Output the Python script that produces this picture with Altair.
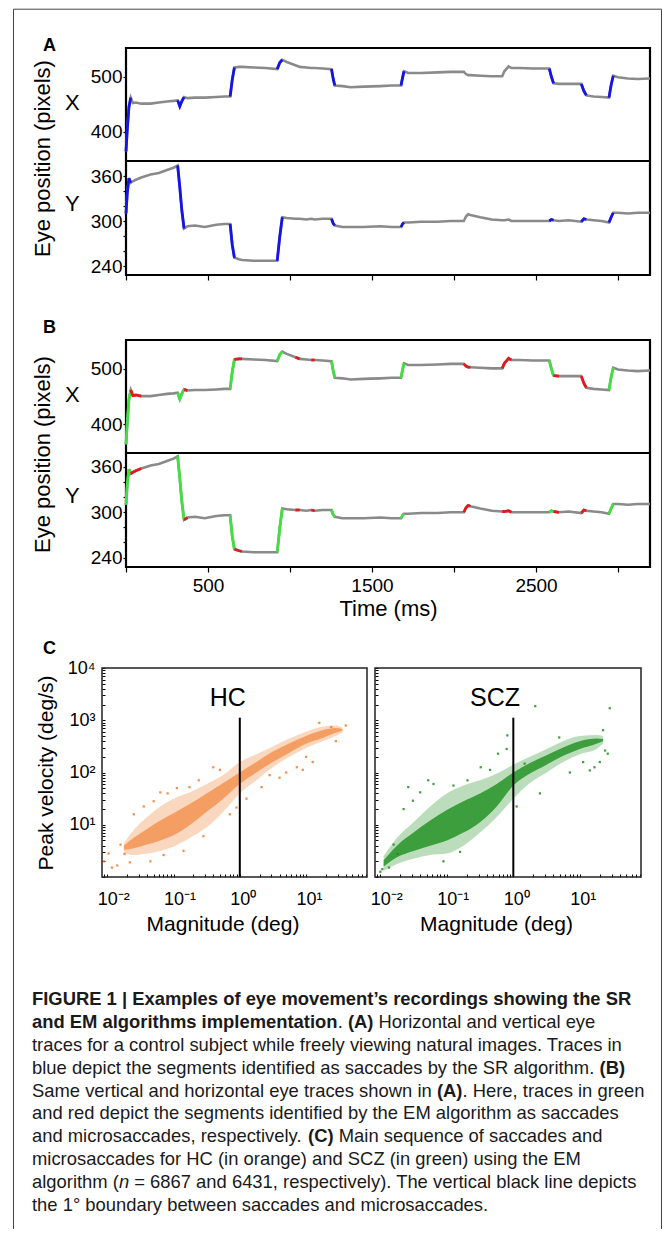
import altair as alt
import pandas as pd

FONT = "Liberation Sans"
GRAY = "#8a8a8a"
BLUE = "#1414e6"
GREEN = "#40e040"
RED = "#e31a1c"
ORANGE = "#f07a2c"
DKGREEN = "#1e8e1e"
FRAME = "#444444"

# ---------------- Panels A / B : eye traces ----------------
time_ms = [0, 8, 18, 29, 42, 60, 93, 150, 200, 250, 290, 315, 328, 340, 354, 375, 420, 480, 550, 600,
           635, 648, 661, 690, 707, 780, 850, 922, 938, 953, 980, 1033, 1059, 1100, 1130, 1150, 1200, 1253, 1263, 1273,
           1320, 1370, 1450, 1550, 1620, 1677, 1686, 1695, 1720, 1800, 1900, 1980, 2040, 2060, 2073, 2086, 2100, 2160, 2230, 2294,
           2307, 2333, 2350, 2400, 2480, 2540, 2581, 2594, 2607, 2640, 2700, 2776, 2792, 2807, 2850, 2900, 2945, 2958, 2971, 3000,
           3060, 3120, 3195]
eye_x = [364, 405, 445, 462, 452, 453, 451, 451, 453, 455, 456, 457, 446, 455, 463, 461, 462, 462, 463, 464,
         464, 495, 517, 518, 518, 517, 516, 514, 526, 531, 527, 521, 518, 517, 516, 516, 515, 514, 497, 484,
         483, 481, 482, 483, 484, 484, 498, 510, 507, 507, 508, 509, 509, 509, 505, 503, 503, 502, 501, 501,
         510, 519, 516, 516, 515, 515, 515, 500, 488, 487, 487, 487, 474, 466, 464, 463, 462, 485, 502, 499,
         497, 496, 497]
eye_y = [310, 338, 357, 351, 353, 355, 358, 362, 364, 368, 371, 374, 345, 315, 290, 293, 294, 292, 295, 296,
         296, 268, 251, 249, 248, 247, 247, 247, 280, 305, 304, 303, 303, 302, 303, 302, 303, 303, 297, 294,
         292, 292, 292, 293, 292, 292, 296, 298, 298, 299, 299, 300, 300, 300, 306, 309, 308, 305, 302, 301,
         301, 302, 300, 300, 300, 300, 300, 302, 301, 300, 301, 299, 303, 302, 301, 300, 298, 305, 311, 311,
         310, 311, 311]

sr_sacc_start = [0, 315, 635, 922, 1253, 1677, 2581, 2776, 2945]
sr_sacc_end = [29, 354, 661, 953, 1273, 1695, 2607, 2807, 2971]
em_sacc_start = [0, 315, 635, 922, 1253, 1677, 2581, 2945]
em_sacc_end = [29, 354, 661, 953, 1273, 1695, 2607, 2971]
em_micro_start = [29, 354, 661, 1033, 1130, 2060, 2294, 2607, 2776]
em_micro_end = [93, 375, 707, 1059, 1150, 2100, 2350, 2640, 2807]

time_domain = [0, 3195]
a_x_domain = [346.4, 552.5]
a_y_domain = [228, 380]
b_x_domain = [348.6, 552]
b_y_domain = [227.5, 378.5]
time_ticks = [0, 500, 1000, 1500, 2000, 2500, 3000]
time_labels = [500, 1500, 2500]
x_ticks = [400, 500]
y_ticks = [240, 260, 280, 300, 320, 340, 360]
y_labels = [240, 300, 360]

# ---------------- Panel C : main sequence (log10 units) ----------------
hc_lm = [-1.75, -1.6, -1.4, -1.2, -1.0, -0.75, -0.5, -0.25, 0.0, 0.25, 0.5, 0.75, 1.0, 1.25, 1.45, 1.55]
hc_outer_lo = [0.45, 0.42, 0.45, 0.5, 0.58, 0.75, 0.95, 1.25, 1.6, 1.85, 2.1, 2.3, 2.47, 2.6, 2.7, 2.76]
hc_outer_hi = [0.65, 0.9, 1.15, 1.35, 1.5, 1.62, 1.78, 1.95, 2.2, 2.35, 2.5, 2.65, 2.78, 2.88, 2.9, 2.86]
hc_core_lo = [0.52, 0.55, 0.62, 0.7, 0.8, 1.0, 1.25, 1.5, 1.78, 2.0, 2.2, 2.38, 2.55, 2.66, 2.76, 2.8]
hc_core_hi = [0.6, 0.75, 0.92, 1.08, 1.22, 1.4, 1.6, 1.8, 2.0, 2.2, 2.4, 2.56, 2.7, 2.81, 2.85, 2.83]
hc_pts_lm = [-2.05, -1.93, -1.74, -1.6, -1.3, -1.09, -0.76, -0.4, -0.05, 0.1, 0.33, 0.6, 0.86, 1.0, 1.38, 1.6,
             -1.98, -1.85, -1.8, -1.66, -1.2, -1.15, -0.95, -0.85, -0.62, -0.55, -0.3, -0.15, 0.45, 0.7,
             0.95, 1.1, 1.2, 1.45, -1.45, -1.35]
hc_pts_lv = [0.3, 0.18, 0.44, 1.2, 1.45, 1.6, 1.72, 2.1, 1.33, 1.5, 1.72, 1.9, 2.1, 2.3, 2.87, 2.9,
             0.45, 0.22, 0.62, 0.28, 1.62, 0.42, 1.7, 0.5, 1.85, 0.78, 2.05, 1.2, 1.95, 2.0,
             2.05, 2.2, 2.95, 2.6, 1.35, 0.3]

scz_lm = [-1.95, -1.75, -1.5, -1.25, -1.0, -0.75, -0.5, -0.25, 0.0, 0.25, 0.5, 0.75, 1.0, 1.25, 1.35]
scz_outer_lo = [0.12, 0.25, 0.35, 0.42, 0.45, 0.6, 0.85, 1.15, 1.5, 1.8, 2.0, 2.2, 2.35, 2.45, 2.55]
scz_outer_hi = [0.4, 0.75, 1.05, 1.35, 1.6, 1.75, 1.85, 1.98, 2.15, 2.3, 2.45, 2.6, 2.7, 2.72, 2.7]
scz_core_lo = [0.2, 0.38, 0.5, 0.6, 0.7, 0.85, 1.05, 1.35, 1.75, 1.98, 2.15, 2.32, 2.45, 2.55, 2.6]
scz_core_hi = [0.32, 0.6, 0.85, 1.08, 1.28, 1.45, 1.6, 1.78, 2.0, 2.18, 2.33, 2.48, 2.6, 2.65, 2.64]
scz_pts_lm = [0.33, 1.45, 1.35, 1.22, 1.42, -0.09, -0.23, -1.58, -1.51, -1.28, -1.87, -1.97, -1.74, 0.17, 0.69, 1.15, -0.69, -0.49,
              -1.65, -1.4, -1.2, -1.05, -0.9, -0.8, -0.35, -0.1, 0.05, 0.4, 0.85, 1.05, 1.3, 1.38, -2.0, -1.8]
scz_pts_lv = [3.27, 3.23, 2.81, 2.1, 2.36, 2.71, 2.36, 1.72, 1.46, 1.85, 0.18, 0.15, 0.44, 2.17, 2.67, 2.04, 1.85, 2.1,
              1.3, 1.62, 1.78, 0.3, 1.75, 0.48, 2.05, 2.45, 1.35, 1.6, 2.0, 2.2, 2.2, 2.42, 0.1, 0.62]

group_names = ["HC", "SCZ"]
group_label_mag = [0.66, 0.53]
group_label_vel = [2700, 2700]
boundary_mag = 1.0
boundary_vel = [1, 1120]

mag_domain = [10 ** -2.08, 10 ** 1.92]
vel_domain = [1, 10000]
mag_label_values = [0.01, 0.1, 1, 10]
mag_label_text = ["10⁻²", "10⁻¹", "10⁰", "10¹"]
vel_label_values = [10, 100, 1000, 10000]
vel_label_text = ["10¹", "10²", "10³", "10⁴"]

# ---------------- Caption ----------------
caption_lines = [
    [("FIGURE 1 | Examples of eye movement’s recordings showing the SR", "b")],
    [("and EM algorithms implementation", "b"), (". ", "r"), ("(A)", "b"), (" Horizontal and vertical eye", "r")],
    [("traces for a control subject while freely viewing natural images. Traces in", "r")],
    [("blue depict the segments identified as saccades by the SR algorithm. ", "r"), ("(B)", "b")],
    [("Same vertical and horizontal eye traces shown in ", "r"), ("(A)", "b"), (". Here, traces in green", "r")],
    [("and red depict the segments identified by the EM algorithm as saccades", "r")],
    [("and microsaccades, respectively. ", "r"), ("(C)", "b"), (" Main sequence of saccades and", "r")],
    [("microsaccades for HC (in orange) and SCZ (in green) using the EM", "r")],
    [("algorithm (", "r"), ("n", "i"), (" = 6867 and 6431, respectively). The vertical black line depicts", "r")],
    [("the 1° boundary between saccades and microsaccades.", "r")],
]

# =====================================================================
rows = [dict(grp="trace", seg=0, t=t, X=x, Y=y) for t, x, y in zip(time_ms, eye_x, eye_y)]
for grp, starts, ends in (("sr", sr_sacc_start, sr_sacc_end),
                          ("ems", em_sacc_start, em_sacc_end),
                          ("emm", em_micro_start, em_micro_end)):
    for k, (s, e) in enumerate(zip(starts, ends)):
        rows += [dict(grp=grp, seg=k + 1, t=t, X=x, Y=y)
                 for t, x, y in zip(time_ms, eye_x, eye_y) if s <= t <= e]
traces = pd.DataFrame(rows)

W_TR = 524
H_X = 113
H_Y = 114
H_TR = H_X + H_Y


def letter_title(letter, dx, dy):
    return alt.TitleParams(letter, anchor="start", frame="group", orient="top", offset=0,
                           dx=dx, dy=dy, baseline="alphabetic", fontSize=18,
                           fontWeight="bold", font=FONT, color="black")


def y_axis_kw():
    return dict(labelFontSize=19, labelFont=FONT, labelColor="black", labelPadding=1,
                tickSize=3, tickColor="black", tickWidth=1.2, domain=False, grid=False,
                titleFontSize=22, titleFont=FONT, titleFontWeight="normal", titleColor="black",
                titleAngle=0, titleAlign="right", titleBaseline="middle", titlePadding=11)


def trace_panel(x_dom, y_dom, colored, letter, letter_dy, x_axis, eye_title_y):
    xs = alt.Scale(domain=time_domain, nice=False, zero=False)
    xenc = alt.X("t:Q", scale=xs, axis=x_axis)
    ax_x = alt.Axis(values=x_ticks, title="X", titleY=54, orient="left", **y_axis_kw())
    ax_y = alt.Axis(values=y_ticks, title="Y", titleY=155.5, orient="left",
                    labelExpr=f"indexof({y_labels}, datum.value) >= 0 ? datum.label : ''",
                    **y_axis_kw())
    ax_eye = alt.Axis(orient="left", title="Eye position (pixels)", labels=False, ticks=False,
                      domain=False, grid=False, titleFontSize=22, titleFont=FONT,
                      titleFontWeight="normal", titleColor="black", titlePadding=72,
                      titleY=eye_title_y)
    sx = alt.Scale(domain=x_dom, range=[H_X, 0], nice=False, zero=False)
    sy = alt.Scale(domain=y_dom, range=[H_TR, H_X], nice=False, zero=False)
    se = alt.Scale(domain=x_dom, range=[H_TR, 0], nice=False, zero=False)

    def lines(field, scale, axis):
        base = alt.Chart(traces).encode(x=xenc, y=alt.Y(f"{field}:Q", scale=scale, axis=axis),
                                        detail="seg:N")
        out = [base.mark_line(color=GRAY, strokeWidth=2.6).transform_filter(alt.datum.grp == "trace")]
        for grp, col in colored:
            out.append(base.mark_line(color=col, strokeWidth=2.8).transform_filter(alt.datum.grp == grp))
        return out

    div_df = pd.DataFrame({"t0": [time_domain[0]], "t1": [time_domain[1]], "X": [x_dom[0]]})
    divider = alt.Chart(div_df).mark_rule(color="black", strokeWidth=2.2).encode(
        x=alt.X("t0:Q", scale=xs, axis=x_axis), x2="t1:Q",
        y=alt.Y("X:Q", scale=sx, axis=ax_x))
    lx = alt.layer(*lines("X", sx, ax_x), divider)
    ly = alt.layer(*lines("Y", sy, ax_y))
    le = alt.Chart(traces).mark_line(opacity=0).encode(
        x=xenc, y=alt.Y("X:Q", scale=se, axis=ax_eye), detail="seg:N"
    ).transform_filter(alt.datum.grp == "trace")
    return alt.layer(lx, ly, le).resolve_scale(y="independent").resolve_axis(y="independent").properties(
        width=W_TR, height=H_TR,
        view=alt.ViewBackground(stroke="black", strokeWidth=2.2),
        title=letter_title(letter, -83, letter_dy))


ax_time_a = alt.Axis(values=time_ticks, labels=False, ticks=True, tickSize=5, tickColor="black",
                     tickWidth=1.2, domain=False, grid=False, title=None)
ax_time_b = alt.Axis(values=time_ticks, format="d", ticks=True, tickSize=5, tickColor="black",
                     tickWidth=1.2, domain=False, grid=False,
                     labelExpr=f"indexof({time_labels}, datum.value) >= 0 ? datum.label : ''",
                     labelFontSize=19, labelFont=FONT, labelColor="black", labelPadding=4,
                     title="Time (ms)", titleFontSize=22, titleFont=FONT, titleFontWeight="normal",
                     titleColor="black", titlePadding=3)

panelA = trace_panel(a_x_domain, a_y_domain, [("sr", BLUE)], "A", 21, ax_time_a, 110)
panelB = trace_panel(b_x_domain, b_y_domain, [("ems", GREEN), ("emm", RED)], "B", 10.7, ax_time_b, 114)

# ---------------- Panel C : both scatter plots in one view ----------------
C_H = 209
HC_RANGE = [-24, 241]
SCZ_RANGE = [249, 515]


def mag_ticks():
    vals = [k * 10.0 ** e for e in (-3, -2, -1, 0, 1) for k in range(1, 10)]
    return [v for v in vals if mag_domain[0] <= v <= mag_domain[1]]


def vel_ticks():
    vals = [k * 10.0 ** e for e in (0, 1, 2, 3) for k in range(1, 10)] + [10000.0]
    return [v for v in vals if vel_domain[0] <= v <= vel_domain[1]]


def label_expr(values, texts):
    expr = "''"
    for v, s in reversed(list(zip(values, texts))):
        expr = f"datum.value == {v} ? '{s}' : ({expr})"
    return expr


ys = alt.Scale(type="log", domain=vel_domain, nice=False)
ax_vel_hc = alt.Axis(values=vel_ticks(), labelExpr=label_expr(vel_label_values, vel_label_text),
                     orient="left", offset=21, labelFontSize=18, labelFont=FONT, labelColor="black",
                     labelPadding=7, labelOverlap=False, labelFlush=False, tickSize=3,
                     tickColor="black", domain=False, grid=False, title="Peak velocity (deg/s)",
                     titleFontSize=21, titleFont=FONT, titleFontWeight="normal", titleColor="black",
                     titlePadding=11)
ax_vel_scz = alt.Axis(values=vel_ticks(), labels=False, orient="left", offset=-(SCZ_RANGE[0] + 3),
                      tickSize=3, tickColor="black", domain=False, grid=False, title=None)


def scatter_group(idx, rng, lm, olo, ohi, clo, chi, plm, plv, color, core_op, y_axis):
    xs = alt.Scale(type="log", domain=mag_domain, range=rng, nice=False)
    ax_m = alt.Axis(values=mag_ticks(), labelExpr=label_expr(mag_label_values, mag_label_text),
                    orient="bottom", offset=-3, labelFontSize=18, labelFont=FONT, labelColor="black",
                    labelAlign="left", labelOffset=-10, labelPadding=13, labelOverlap=False,
                    labelFlush=False, tickSize=3, tickColor="black", domain=False, grid=False,
                    title="Magnitude (deg)", titleFontSize=21, titleFont=FONT,
                    titleFontWeight="normal", titleColor="black", titlePadding=5,
                    titleX=(rng[0] + rng[1]) / 2 - 12)
    X = alt.X("mag:Q", scale=xs, axis=ax_m)
    Y = alt.Y("vlo:Q", scale=ys, axis=y_axis)
    band = pd.DataFrame({"mag": [10 ** v for v in lm], "vlo": [10 ** v for v in olo],
                         "vhi": [10 ** v for v in ohi]})
    core = pd.DataFrame({"mag": [10 ** v for v in lm], "vlo": [10 ** v for v in clo],
                         "vhi": [10 ** v for v in chi]})
    pts = pd.DataFrame({"mag": [10 ** v for v in plm], "vlo": [10 ** v for v in plv]})
    lab = pd.DataFrame({"mag": [group_label_mag[idx]], "vlo": [group_label_vel[idx]],
                        "txt": [group_names[idx]]})
    bnd = pd.DataFrame({"mag": [boundary_mag], "vlo": [boundary_vel[0]], "vhi": [boundary_vel[1]]})
    box = pd.DataFrame({"mag": [mag_domain[0]], "mag2": [mag_domain[1]],
                        "vlo": [vel_domain[0]], "vhi": [vel_domain[1]]})
    return alt.layer(
        alt.Chart(band).mark_area(color=color, opacity=0.3, interpolate="monotone").encode(x=X, y=Y, y2="vhi:Q"),
        alt.Chart(core).mark_area(color=color, opacity=core_op, interpolate="monotone").encode(x=X, y=Y, y2="vhi:Q"),
        alt.Chart(pts).mark_square(color=color, size=5, opacity=0.85).encode(x=X, y=Y),
        alt.Chart(bnd).mark_rule(color="black", strokeWidth=2).encode(x=X, y=Y, y2="vhi:Q"),
        alt.Chart(lab).mark_text(fontSize=25, font=FONT, color="black", baseline="middle").encode(x=X, y=Y, text="txt:N"),
        alt.Chart(box).mark_rect(filled=False, stroke="#222222", strokeWidth=1.5).encode(x=X, x2="mag2:Q", y=Y, y2="vhi:Q"),
    )


hc = scatter_group(0, HC_RANGE, hc_lm, hc_outer_lo, hc_outer_hi, hc_core_lo, hc_core_hi,
                   hc_pts_lm, hc_pts_lv, ORANGE, 0.62, ax_vel_hc)
scz = scatter_group(1, SCZ_RANGE, scz_lm, scz_outer_lo, scz_outer_hi, scz_core_lo, scz_core_hi,
                    scz_pts_lm, scz_pts_lv, DKGREEN, 0.8, ax_vel_scz)
panelC = alt.layer(hc, scz).resolve_scale(x="independent", y="independent").resolve_axis(
    x="independent", y="independent").properties(
    width=SCZ_RANGE[1], height=C_H, title=letter_title("C", -83, 13))

# ---------------- caption ----------------
REG = {}
for chars, w in [("'", 191), ("ijl’", 222), ("|", 260), (" .,:;!/ftI", 278), ("()-r", 333), ("°", 400),
                 ("ckvxyzsJ", 500), ("abdeghnopqu0123456789L", 556), ("=+", 584), ("FTZ", 611),
                 ("ABEKPSVXY", 667), ("CDHNRUw", 722), ("GOQ", 778), ("Mm", 833), ("W", 944)]:
    for ch in chars:
        REG[ch] = w
BOLD = {}
for chars, w in [(" .,:;!iIjl/’", 278), ("|", 280), ("()-ft", 333), ("r", 389),
                 ("acesvxyzkJ0123456789", 556), ("=+", 584), ("bdghnopquFLTZ", 611), ("EPSVXY", 667),
                 ("ABCDHKNRU", 722), ("GOQw", 778), ("M", 833), ("m", 889), ("W", 944)]:
    for ch in chars:
        BOLD[ch] = w
CAP_FS = 18.4
CAP_X0 = -94


def text_w(s, style):
    table = BOLD if style == "b" else REG
    return sum(table.get(ch, 556) for ch in s) * CAP_FS / 1000.0


cap_rows = []
for i, segs in enumerate(caption_lines):
    pos = CAP_X0
    for txt, st in segs:
        core_txt = txt.strip(" ")
        lead = len(txt) - len(txt.lstrip(" "))
        pos += text_w(" " * lead, st)
        cap_rows.append(dict(line=i, px=pos, txt=core_txt, style=st))
        pos += text_w(txt.lstrip(" "), st)
cap_df = pd.DataFrame(cap_rows)

CAP_LH = 22.8
CAP_H = 10 * CAP_LH
cap_base = alt.Chart(cap_df).encode(
    x=alt.X("px:Q", scale=None, axis=None),
    y=alt.Y("line:Q", scale=alt.Scale(domain=[-0.5, 9.5], reverse=True, nice=False, zero=False), axis=None),
    text="txt:N")
cap_layers = []
for st, wgt, fst in [("r", "normal", "normal"), ("b", "bold", "normal"), ("i", "normal", "italic")]:
    cap_layers.append(cap_base.mark_text(align="left", baseline="middle", fontSize=CAP_FS, font=FONT,
                                         fontWeight=wgt, fontStyle=fst, color="#1a1a1a")
                      .transform_filter(alt.datum.style == st))
caption = alt.layer(*cap_layers).properties(width=500, height=CAP_H)

# ---------------- assembly (flush stacking, spacers give the gaps) ----------------
one = pd.DataFrame({"a": [0]})


def spacer(h):
    return alt.Chart(one).mark_point(opacity=0).encode(x=alt.value(0), y=alt.value(0)).properties(
        width=1, height=h)


main = alt.vconcat(panelA, spacer(65), panelB, spacer(101), panelC, spacer(110.4), caption,
                   spacing=0, bounds="flush")

FX0, FX1, FY0, FY1 = -111.5, 536.5, -38.8, 1181
frame = alt.layer(
    alt.Chart(one).mark_rule(color=FRAME, strokeWidth=1).encode(
        x=alt.value(FX0), x2=alt.value(FX1), y=alt.value(FY0)),
    alt.Chart(one).mark_rule(color=FRAME, strokeWidth=1).encode(
        x=alt.value(FX0), y=alt.value(FY0), y2=alt.value(FY1)),
    alt.Chart(one).mark_rule(color=FRAME, strokeWidth=1).encode(
        x=alt.value(FX1), y=alt.value(FY0), y2=alt.value(FY1)),
).properties(width=1, height=1)

chart = alt.hconcat(frame, main, spacing=0, bounds="flush").properties(
    padding={"left": 5, "top": 0, "right": 0, "bottom": 0}
).configure_view(strokeWidth=0).configure_axis(
    labelFont=FONT, titleFont=FONT, labelColor="black", titleColor="black", grid=False
).configure_title(font=FONT, color="black").configure_text(font=FONT)

chart.save("out.html", embed_options={"renderer": "svg", "actions": False})
